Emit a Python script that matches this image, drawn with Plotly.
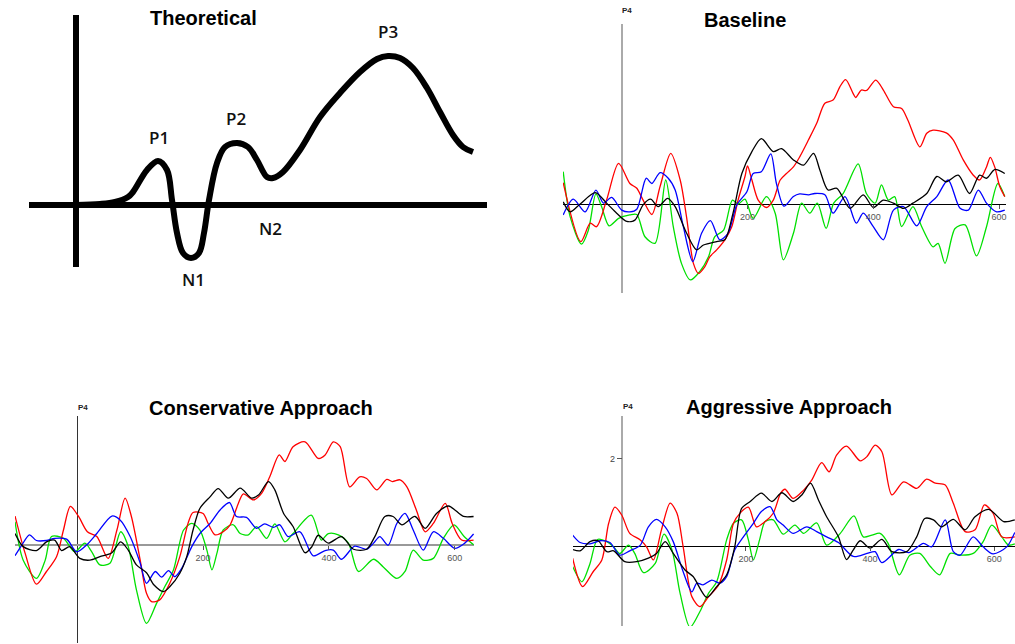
import plotly.graph_objects as go

# ---------------- DATA ----------------
# Theoretical schematic (arbitrary time units, arbitrary amplitude)
THEO_T = [0, 24, 39, 52, 57, 71, 82, 91, 96, 101, 107, 115, 123, 128, 133, 141, 149, 161, 172, 181,
          191, 197, 207, 224, 244, 264, 284, 301, 312, 324, 337, 351, 364, 377, 387, 397]
THEO_A = [0, 0.1, 0.3, 0.8, 1.3, 3.5, 4.4, 3.5, 0.5, -2.8, -4.8, -5.3, -4.8, -2.8, 0.5, 4.2, 5.8, 6.2, 5.8, 4.5,
          2.8, 2.7, 3.3, 5.5, 8.8, 11.2, 13.3, 14.6, 14.9, 14.7, 13.7, 11.7, 9.3, 7.0, 5.8, 5.3]
THEO_LABELS = ["P1", "P2", "P3", "N1", "N2"]
THEO_LABEL_T = [83, 160, 312, 117, 194]
THEO_LABEL_A = [6.7, 8.6, 17.4, -7.4, -2.3]

# ERP waveforms (time ms, amplitude uV) as (t, v) pairs
BASE_RED = [(-93,0.49),(-65,-0.86),(-50,-0.44),(-40,-0.52),(-24,0.09),(-5,0.93),(13,0.47),(24,0.36),(34,0.09),(48,-0.24),
            (61,0.40),(78,1.16),(93,0.55),(103,-0.29),(114,-1.36),(122,-1.59),(132,-1.44),(140,-1.21),(151,-1.05),(164,-0.82),
            (175,-0.52),(185,0.09),(196,0.63),(200,0.87),(207,0.55),(217,0.09),(230,-0.08),(241,0.09),(252,0.55),(262,0.70),
            (273,0.85),(283,1.08),(297,1.47),(310,1.85),(323,2.31),(336,2.38),(347,2.69),(356,2.85),(368,2.53),(372,2.44),
            (381,2.61),(389,2.60),(404,2.84),(416,2.61),(432,2.23),(445,2.19),(455,1.92),(474,1.31),(485,1.62),(495,1.69),
            (516,1.63),(527,1.47),(543,1.01),(559,0.66),(569,0.55),(580,0.85),(586,1.07),(593,0.85),(601,0.40),(609,0.17)]
BASE_BLACK = [(-93,0.05),(-82,-0.18),(-66,0),(-42,0.26),(-24,0.02),(-8,-0.21),(8,-0.40),(21,-0.37),(34,-0.02),(46,0.11),
              (58,-0.06),(73,0.13),(85,-0.06),(101,-0.6),(119,-1.05),(130,-0.94),(151,-0.86),(164,-0.82),(177,-0.21),(191,0.70),
              (207,1.20),(222,1.50),(241,1.20),(254,1.27),(273,1.01),(289,0.89),(305,1.16),(315,0.78),(328,0.32),(342,0.36),
              (363,-0.10),(384,0.21),(400,-0.08),(416,0.09),(432,0.02),(448,-0.10),(463,0.02),(485,0.24),(501,0.63),(516,0.51),
              (535,0.66),(553,0.24),(569,0.66),(580,0.59),(593,0.79),(609,0.70)]
BASE_BLUE = [(-93,-0.25),(-77,0.11),(-58,-0.18),(-41,0.32),(-29,0.02),(-16,0.15),(0,-0.14),(13,-0.18),(24,-0.12),(39,0.59),
             (48,0.47),(61,0.72),(74,0.59),(85,0.32),(98,-0.52),(113,-1.32),(127,-0.67),(141,-0.38),(156,-0.82),(169,-0.67),
             (183,-0.02),(199,0.28),(209,0.70),(222,0.74),(237,1.15),(246,0.47),(258,-0.05),(273,0.17),(283,0.23),(297,0.21),
             (307,0.24),(323,0.21),(336,-0.21),(355,0.17),(373,-0.44),(384,-0.21),(400,-0.52),(416,-0.82),(432,-0.14),(448,-0.06),
             (469,-0.50),(485,-0.06),(501,0.17),(519,0.55),(538,-0.10),(551,-0.14),(567,0.32),(580,0.02),(596,-0.18),(609,-0.14)]
BASE_GREEN = [(-93,0.74),(-82,-0.29),(-64,-0.92),(-53,-0.60),(-41,0.23),(-32,-0.06),(-20,-0.50),(-5,-0.33),(13,-0.25),(24,-0.24),
              (37,-0.75),(53,-0.90),(70,0.55),(82,-0.52),(95,-1.36),(109,-1.74),(124,-1.55),(138,-1.21),(148,-0.75),(162,-0.60),
              (176,0.09),(185,0),(196,0.11),(209,-0.33),(230,0.17),(244,-0.21),(257,-1.28),(273,-0.67),(286,0.02),(299,-0.21),
              (311,0.02),(325,-0.56),(337,0.02),(352,0.24),(376,0.92),(389,0.24),(403,0.02),(413,0.44),(424,0.09),(434,0.17),
              (445,-0.52),(463,-0.06),(477,-0.52),(495,-0.98),(503,-0.90),(514,-1.36),(530,-0.56),(546,-0.48),(564,-1.19),(580,-0.52),
              (598,0.47),(609,0.17)]

CONS_RED = [(-99,0.67),(-83,-0.18),(-65,-0.89),(-49,-0.60),(-33,-0.26),(-22,0.35),(-11,0.89),(2,0.66),(16,0.31),(31,0.20),
            (49,-0.30),(63,0.35),(76,1.08),(86,0.66),(100,-0.34),(110,-1.10),(118,-1.29),(131,-1.25),(147,-0.87),(163,-0.26),
            (176,0.50),(184,0.75),(200,0.73),(208,0.50),(219,0.24),(232,0.31),(243,0.47),(256,0.96),(264,1.18),(280,1.04),
            (293,1.19),(306,1.57),(321,2.07),(330,1.92),(343,2.26),(362,2.37),(383,1.99),(394,2.07),(407,2.37),(418,2.26),
            (433,1.34),(449,1.57),(460,1.53),(476,1.27),(492,1.51),(501,1.46),(513,1.50),(524,1.34),(539,0.81),(553,0.31),
            (566,0.50),(585,0.96),(596,0.50),(611,0.12),(630,0.12)]
CONS_BLACK = [(-99,0.27),(-86,-0.03),(-65,-0.12),(-49,0.08),(-36,0.12),(-25,-0.12),(-12,-0.03),(4,-0.30),(20,-0.34),(36,-0.26),
              (55,-0.17),(69,0.08),(81,-0.11),(94,-0.45),(110,-0.63),(122,-0.91),(137,-1.06),(147,-0.95),(163,-0.64),(174,-0.26),
              (184,0.35),(195,0.85),(211,1.11),(224,1.30),(240,1.08),(259,1.31),(277,1.08),(288,1.15),(304,1.46),(314,1.27),
              (328,0.73),(343,0.43),(362,-0.17),(373,-0.03),(383,0.23),(399,0.05),(420,0.20),(439,-0.09),(460,-0.09),(473,0.20),
              (489,0.66),(502,0.66),(516,0.47),(537,0.66),(553,0.39),(571,0.73),(590,0.90),(614,0.66),(630,0.66)]
CONS_BLUE = [(-99,-0.24),(-88,0.01),(-76,0.24),(-65,0.11),(-49,0.11),(-36,0.16),(-17,0.14),(-1,-0.15),(15,0.01),(31,0.27),
             (55,0.67),(68,0.58),(84,0.20),(100,-0.41),(110,-0.87),(124,-0.60),(134,-0.73),(145,-0.58),(155,-0.72),(166,-0.53),
             (182,-0.03),(195,0.27),(211,0.50),(227,0.81),(242,0.98),(253,0.66),(269,0.64),(285,0.39),(298,0.49),(312,0.41),
             (322,0.47),(335,0.20),(354,0.31),(375,-0.24),(394,-0.12),(407,-0.11),(420,-0.32),(441,-0.02),(460,-0.09),(471,0.05),
             (481,0.20),(494,0),(508,0.50),(521,0.73),(534,0.35),(550,-0.11),(566,0.31),(582,0.16),(600,-0.07),(616,0.05),(630,0.26)]
CONS_GREEN = [(-99,0.54),(-86,-0.34),(-65,-0.76),(-51,-0.34),(-41,0.20),(-22,0.16),(-4,-0.15),(12,0.05),(23,-0.15),(36,-0.45),
              (52,-0.41),(69,0.31),(81,-0.03),(94,-1.02),(110,-1.79),(126,-1.33),(139,-0.95),(153,-0.56),(169,0.35),(182,0.50),
              (195,0.35),(206,-0.11),(214,-0.56),(222,-0.18),(232,0.35),(248,0.47),(259,0.27),(272,0.24),(285,0.43),(301,0.16),
              (314,0.49),(330,0.08),(343,0.27),(372,0.69),(388,0.12),(399,0.27),(415,0.24),(431,0.05),(447,-0.60),(471,-0.32),
              (486,-0.49),(508,-0.76),(521,-0.60),(534,-0.11),(550,-0.34),(566,-0.30),(582,0.16),(599,0.47),(615,0.20),(630,0.01)]

AGGR_RED = [(-79,-0.28),(-63,-0.93),(-46,-0.59),(-32,-0.32),(-21,0.52),(-11,0.89),(0,0.71),(13,0.29),(30,0.14),(40,-0.02),
            (51,-0.32),(64,0.37),(78,0.98),(89,0.75),(99,-0.02),(113,-1.16),(126,-1.39),(140,-1.16),(156,-0.89),(169,-0.32),
            (180,0.52),(191,0.76),(204,0.89),(217,0.44),(231,0.56),(244,0.75),(256,1.21),(263,1.30),(276,1.09),(293,1.28),
            (306,1.51),(322,1.91),(334,1.70),(346,2.08),(362,2.29),(384,1.95),(395,2.05),(408,2.31),(419,2.16),(435,1.17),
            (454,1.47),(475,1.32),(491,1.53),(505,1.44),(521,1.40),(534,0.98),(553,0.33),(569,0.37),(584,0.94),(598,0.75),
            (612,0.21),(633,0.21)]
AGGR_BLACK = [(-79,-0.08),(-67,-0.11),(-51,0.10),(-38,0.12),(-24,-0.13),(-13,-0.11),(5,-0.36),(24,-0.36),(43,-0.28),(56,-0.17),
              (70,0.10),(83,-0.17),(102,-0.55),(115,-0.70),(137,-1.18),(153,-0.93),(169,-0.66),(182,-0.02),(193,0.86),(207,1.02),
              (225,1.21),(242,1.02),(258,1.22),(276,1.02),(290,1.17),(304,1.44),(317,1.05),(330,0.67),(349,0.21),(362,-0.31),
              (373,-0.09),(384,0.12),(400,-0.05),(419,0.15),(435,-0.13),(459,-0.13),(475,0.21),(488,0.63),(502,0.60),(515,0.44),
              (534,0.61),(553,0.37),(569,0.67),(591,0.84),(615,0.56),(633,0.60)]
AGGR_BLUE = [(-79,0.25),(-67,0.08),(-51,0.05),(-35,0.12),(-19,0.08),(-3,-0.21),(13,-0.11),(30,0.02),(43,0.44),(56,0.61),
             (70,0.44),(83,0.10),(99,-0.59),(113,-1.05),(121,-0.85),(131,-0.89),(145,-0.78),(158,-0.85),(169,-0.70),(182,-0.09),
             (196,0.21),(212,0.52),(225,0.79),(239,0.90),(250,0.60),(260,0.48),(276,0.29),(298,0.44),(314,0.33),(330,0.21),
             (349,0.08),(373,-0.24),(395,-0.17),(408,-0.13),(419,-0.38),(446,-0.08),(462,-0.15),(486,0.06),(499,-0.02),(521,0.60),
             (534,-0.13),(545,-0.21),(566,0.21),(582,-0.02),(598,-0.18),(620,-0.02),(633,0.31)]
AGGR_GREEN = [(-79,-0.47),(-64,-0.82),(-51,-0.40),(-39,0.15),(-24,0.10),(-13,-0.02),(-3,-0.17),(11,0.02),(21,-0.17),(35,-0.61),
              (54,-0.40),(68,0.27),(81,-0.09),(94,-1.08),(110,-1.86),(126,-1.50),(140,-1.08),(153,-0.82),(169,0.14),(180,0.52),
              (193,0.60),(204,0.14),(212,-0.32),(222,0.14),(231,0.56),(244,0.60),(260,0.27),(279,0.48),(293,0.29),(314,0.53),
              (330,0.02),(352,0.29),(374,0.69),(389,0.21),(403,0.25),(416,0.29),(429,0.06),(447,-0.66),(464,-0.21),(480,-0.17),
              (497,-0.47),(512,-0.66),(529,-0.17),(545,-0.21),(566,-0.17),(582,0.10),(596,0.48),(612,0.21),(623,0.02),(633,0.05)]

X_TICKS = [200, 400, 600]
Y_TICKS_AGGR = [2]
PANEL_TITLES = ["Theoretical", "Baseline", "Conservative Approach", "Aggressive Approach"]
CHANNEL = "P4"

# ---------------- LAYOUT ----------------
W, H = 1015, 644
def fx(px): return px / W
def fy(py): return 1 - py / H

COLORS = {"red": "#ff0000", "black": "#000000", "blue": "#0000ff", "green": "#00e000"}

panels = [
    dict(ax=2, series=[("green", BASE_GREEN), ("red", BASE_RED), ("blue", BASE_BLUE), ("black", BASE_BLACK)],
         xd=(563, 1006), yd=(24, 293), t0=621.7, sx=0.629, z=204, sy=43.65,
         vcol="#aaaaaa", vw=2, zcol="#000000", zw=1, yt=False, p4=(627, 11)),
    dict(ax=3, series=[("green", CONS_GREEN), ("red", CONS_RED), ("blue", CONS_BLUE), ("black", CONS_BLACK)],
         xd=(15, 474), yd=(416, 643), t0=77.3, sx=0.629, z=545.3, sy=43.65,
         vcol="#333333", vw=1, zcol="#999999", zw=2, yt=False, p4=(83, 407)),
    dict(ax=4, series=[("green", AGGR_GREEN), ("red", AGGR_RED), ("blue", AGGR_BLUE), ("black", AGGR_BLACK)],
         xd=(573, 1015), yd=(416, 626), t0=621.7, sx=0.621, z=546, sy=43.65,
         vcol="#aaaaaa", vw=2, zcol="#000000", zw=1, yt=True, p4=(628, 406)),
]

fig = go.Figure()

# Theoretical panel
THEO_YDOM_PX = (15, 267)
THEO_YRANGE = [-6.2, 19]
fig.add_trace(go.Scatter(x=THEO_T, y=THEO_A, mode="lines", line=dict(color="black", width=6, shape="spline"),
                         xaxis="x", yaxis="y", showlegend=False, hoverinfo="skip"))

layout = dict(
    width=W, height=H, autosize=False, margin=dict(l=0, r=0, t=0, b=0),
    paper_bgcolor="white", plot_bgcolor="white", showlegend=False,
    xaxis=dict(domain=[fx(29), fx(487)], range=[-47, 411], showgrid=False, showticklabels=False, ticks="",
               zeroline=True, zerolinecolor="black", zerolinewidth=6, showline=False, fixedrange=True),
    yaxis=dict(domain=[fy(THEO_YDOM_PX[1]), fy(THEO_YDOM_PX[0])], range=THEO_YRANGE, showgrid=False,
               showticklabels=False, ticks="",
               zeroline=True, zerolinecolor="black", zerolinewidth=6, showline=False, fixedrange=True),
)

def theo_paper_y(a):
    y0, y1 = fy(THEO_YDOM_PX[1]), fy(THEO_YDOM_PX[0])
    return y0 + (a - THEO_YRANGE[0]) / (THEO_YRANGE[1] - THEO_YRANGE[0]) * (y1 - y0)

annotations = []
for lab, t, a in zip(THEO_LABELS, THEO_LABEL_T, THEO_LABEL_A):
    annotations.append(dict(x=t, y=theo_paper_y(a), xref="x", yref="paper", text=lab, showarrow=False,
                            xanchor="center", yanchor="middle",
                            font=dict(family="Open Sans, Noto Sans", size=17, color="#111", weight=600)))

for p in panels:
    n = p["ax"]
    for cname, pts in p["series"]:
        fig.add_trace(go.Scatter(x=[q[0] for q in pts], y=[q[1] for q in pts], mode="lines",
                                 line=dict(color=COLORS[cname], width=1.3, shape="spline", smoothing=0.8),
                                 xaxis=f"x{n}", yaxis=f"y{n}", showlegend=False, hoverinfo="skip"))
    x0, x1 = p["xd"]
    ytop, ybot = p["yd"]
    xr = [(x0 - p["t0"]) / p["sx"], (x1 - p["t0"]) / p["sx"]]
    yr = [(p["z"] - ybot) / p["sy"], (p["z"] - ytop) / p["sy"]]
    layout[f"xaxis{n}"] = dict(domain=[fx(x0), fx(x1)], range=xr, anchor="free", position=fy(p["z"]),
                               showgrid=False, zeroline=True, zerolinecolor=p["vcol"], zerolinewidth=p["vw"],
                               showline=False, tickmode="array", tickvals=X_TICKS, ticks="outside", ticklen=4,
                               tickcolor="#555", tickwidth=1,
                               tickfont=dict(family="Liberation Sans, Arial", size=9, color="#555"), fixedrange=True)
    ydict = dict(domain=[fy(ybot), fy(ytop)], range=yr, anchor="free", position=fx(p["t0"]),
                 showgrid=False, zeroline=True, zerolinecolor=p["zcol"], zerolinewidth=p["zw"],
                 showline=False, fixedrange=True)
    if p["yt"]:
        ydict.update(tickmode="array", tickvals=Y_TICKS_AGGR, ticks="outside", ticklen=5, tickcolor="#555",
                     tickfont=dict(family="Liberation Sans, Arial", size=9, color="#444"))
    else:
        ydict.update(showticklabels=False, ticks="")
    layout[f"yaxis{n}"] = ydict
    annotations.append(dict(x=fx(p["p4"][0]), y=fy(p["p4"][1]), xref="paper", yref="paper", text=f"<b>{CHANNEL}</b>",
                            xanchor="center", yanchor="middle",
                            showarrow=False, font=dict(family="Liberation Sans, Arial", size=8, color="#222")))

title_pos = [(203, 18), (745, 20), (261, 408), (789, 407)]
for title, (tx, ty) in zip(PANEL_TITLES, title_pos):
    annotations.append(dict(x=fx(tx), y=fy(ty), xref="paper", yref="paper", text=f"<b>{title}</b>",
                            xanchor="center", yanchor="middle",
                            showarrow=False, font=dict(family="Liberation Sans, Arial", size=20, color="black")))

layout["annotations"] = annotations
fig.update_layout(**layout)
fig.write_html("out.html", config={"displayModeBar": False})
